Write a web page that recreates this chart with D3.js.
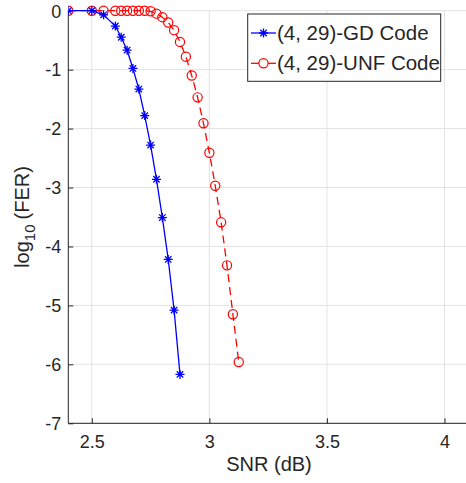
<!DOCTYPE html>
<html lang="en">
<head>
<meta charset="UTF-8"/>
<title>FER vs SNR</title>
<script src="https://d3js.org/d3.v7.min.js"></script>
<style>
    body { margin: 0; background: #fff; }
    text { font-family: "Liberation Sans", Arial, sans-serif; fill: #262626; }
</style>
</head>
<body>
<div id="chart"></div>
<script>
    let width = 466;
    let height = 483;

    // data
    var gdSnr = [2.4, 2.5, 2.55, 2.6, 2.625, 2.65, 2.675, 2.7, 2.725, 2.75, 2.775, 2.8, 2.825, 2.85, 2.875];
    var gdFer = [0, 0, -0.07, -0.26, -0.45, -0.67, -0.98, -1.33, -1.78, -2.28, -2.86, -3.51, -4.22, -5.08, -6.17];

    var unfSnr = [2.4, 2.5, 2.55, 2.6, 2.625, 2.65, 2.675, 2.7, 2.725, 2.75, 2.775, 2.8, 2.825, 2.85,
        2.875, 2.9, 2.925, 2.95, 2.975, 3.0, 3.025, 3.05, 3.075, 3.1, 3.125];
    var unfFer = [0, 0, 0, 0, 0, 0, 0, 0, 0, -0.01, -0.05, -0.11, -0.2, -0.33,
        -0.53, -0.78, -1.1, -1.47, -1.91, -2.41, -2.97, -3.59, -4.32, -5.15, -5.96];

    var xTicks = [2.5, 3, 3.5, 4];
    var yTicks = [0, -1, -2, -3, -4, -5, -6, -7];
    var legendNames = ["(4, 29)-GD Code", "(4, 29)-UNF Code"];

    // plot box (window.top is taken, so prefixed names)
    var pLeft = 68.3, pRight = 468, pTop = 10.7, pBottom = 423.3;

    var xScale = d3.scaleLinear().domain([2.4, 4.1]).range([pLeft, pRight]);
    var yScale = d3.scaleLinear().domain([-7, 0]).range([pBottom, pTop]);

    var svg = d3.select("#chart").append("svg").attr("width", width).attr("height", height);

    // grid
    svg.selectAll(".gx").data(xTicks).enter().append("line")
        .attr("x1", d => xScale(d)).attr("x2", d => xScale(d))
        .attr("y1", pTop).attr("y2", pBottom)
        .attr("stroke", "#e3e3e3").attr("stroke-width", 1);
    svg.selectAll(".gy").data(yTicks).enter().append("line")
        .attr("x1", pLeft).attr("x2", pRight)
        .attr("y1", d => yScale(d)).attr("y2", d => yScale(d))
        .attr("stroke", "#e3e3e3").attr("stroke-width", 1);

    // axes (ticks inside, like matlab) - plain hyphen for minus
    var xAxis = d3.axisTop(xScale).tickValues(xTicks).tickSize(5).tickFormat(d => String(d));
    var yAxis = d3.axisRight(yScale).tickValues(yTicks).tickSize(5).tickFormat(d => String(d));

    var gx = svg.append("g").attr("transform", "translate(0," + pBottom + ")").call(xAxis);
    gx.select(".domain").attr("d", "M" + pLeft + ",0H" + pRight).attr("stroke", "#262626");
    gx.selectAll(".tick line").attr("stroke", "#262626");
    gx.selectAll(".tick text").attr("y", 25).attr("dy", 0)
        .style("font-size", "18px").style("font-family", "Liberation Sans, Arial").attr("fill", "#262626");

    var gy = svg.append("g").attr("transform", "translate(" + pLeft + ",0)").call(yAxis);
    gy.select(".domain").attr("d", "M0," + pTop + "V" + pBottom).attr("stroke", "#262626");
    gy.selectAll(".tick line").attr("stroke", "#262626");
    gy.selectAll(".tick text").attr("x", -7).attr("dy", "0.35em").attr("text-anchor", "end")
        .style("font-size", "18px").style("font-family", "Liberation Sans, Arial").attr("fill", "#262626");

    // clip for data
    svg.append("clipPath").attr("id", "clip").append("rect")
        .attr("x", pLeft).attr("y", 0).attr("width", pRight - pLeft).attr("height", pBottom);

    var plot = svg.append("g").attr("clip-path", "url(#clip)");

    var line = d3.line().x(d => xScale(d[0])).y(d => yScale(d[1]));
    var gdData = d3.zip(gdSnr, gdFer);
    var unfData = d3.zip(unfSnr, unfFer);

    var starPath = "M-4.5,0H4.5M0,-4.5V4.5M-3.2,-3.2L3.2,3.2M-3.2,3.2L3.2,-3.2";

    // UNF red dashed with circles
    plot.append("path").datum(unfData).attr("d", line)
        .attr("fill", "none").attr("stroke", "#ff0000").attr("stroke-width", 1.3)
        .attr("stroke-dasharray", "8,5");
    plot.selectAll(".unf").data(unfData).enter().append("circle")
        .attr("cx", d => xScale(d[0])).attr("cy", d => yScale(d[1])).attr("r", 4.6)
        .attr("fill", "none").attr("stroke", "#ff0000").attr("stroke-width", 1.2);

    // GD blue solid with stars
    plot.append("path").datum(gdData).attr("d", line)
        .attr("fill", "none").attr("stroke", "#0000ff").attr("stroke-width", 1.3);
    plot.selectAll(".gd").data(gdData).enter().append("path")
        .attr("transform", d => "translate(" + xScale(d[0]) + "," + yScale(d[1]) + ")")
        .attr("d", starPath).attr("fill", "none").attr("stroke", "#0000ff").attr("stroke-width", 1.3);

    // legend
    var lg = svg.append("g");
    lg.append("rect").attr("x", 247.7).attr("y", 14).attr("width", 193).attr("height", 67.3)
        .attr("fill", "#fff").attr("stroke", "#262626").attr("stroke-width", 1);
    var rows = [33, 63.3];
    lg.append("line").attr("x1", 251).attr("x2", 276).attr("y1", rows[0]).attr("y2", rows[0])
        .attr("stroke", "#0000ff").attr("stroke-width", 1.3);
    lg.append("path").attr("transform", "translate(263.5," + rows[0] + ")").attr("d", starPath)
        .attr("fill", "none").attr("stroke", "#0000ff").attr("stroke-width", 1.3);
    lg.append("line").attr("x1", 251).attr("x2", 276).attr("y1", rows[1]).attr("y2", rows[1])
        .attr("stroke", "#ff0000").attr("stroke-width", 1.3);
    lg.append("circle").attr("cx", 263.5).attr("cy", rows[1]).attr("r", 4.6)
        .attr("fill", "#fff").attr("stroke", "#ff0000").attr("stroke-width", 1.2);
    lg.selectAll(".lt").data(legendNames).enter().append("text")
        .attr("x", 277).attr("y", (d, i) => rows[i]).attr("dy", "0.35em")
        .style("font-size", "20.5px").attr("fill", "#000").text(d => d);

    // axis labels
    svg.append("text").attr("x", 269).attr("y", 471).attr("text-anchor", "middle")
        .style("font-size", "20px").text("SNR (dB)");

    var yl = svg.append("text").attr("transform", "translate(29," + ((pTop + pBottom) / 2) + ") rotate(-90)")
        .attr("text-anchor", "middle").style("font-size", "20px");
    yl.append("tspan").text("log");
    yl.append("tspan").attr("dy", 6).style("font-size", "15px").text("10");
    yl.append("tspan").attr("dy", -6).attr("dx", 5).text("(FER)");
</script>
</body>
</html>
